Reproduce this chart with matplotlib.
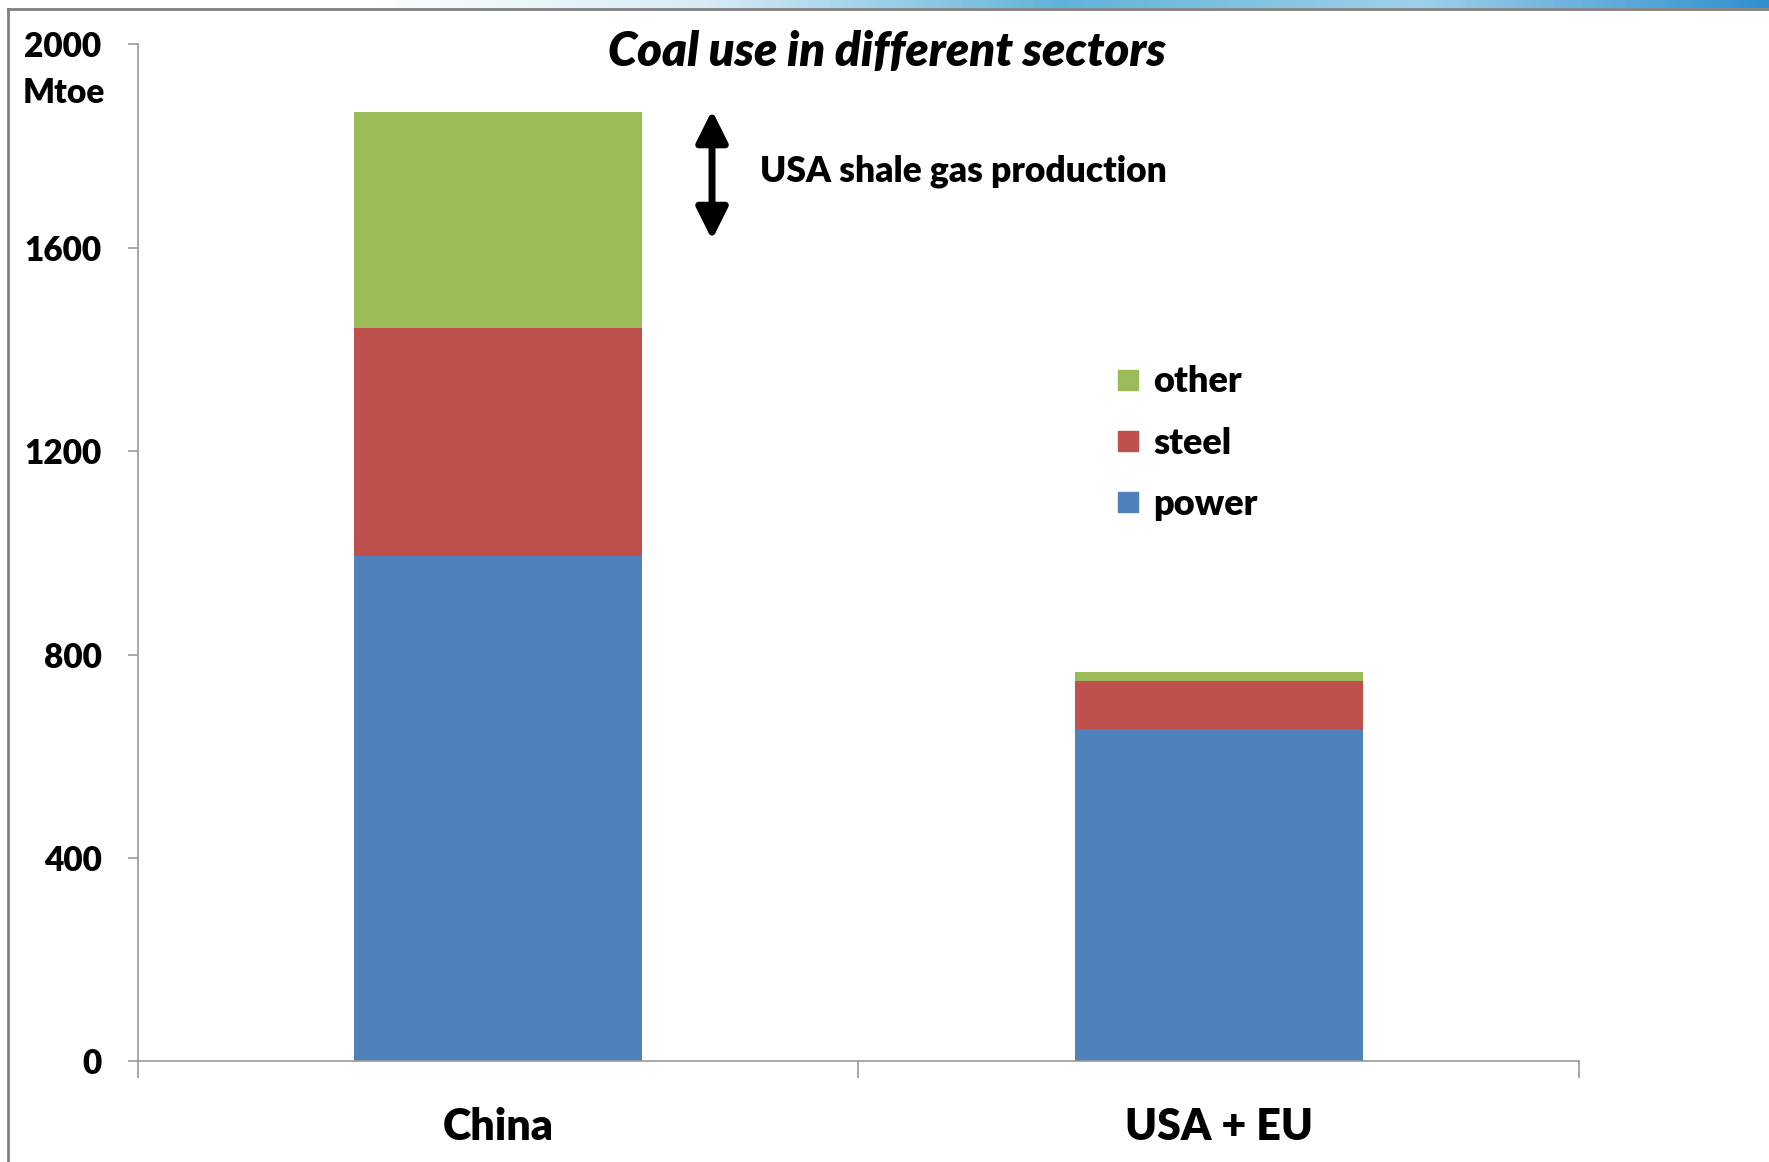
import matplotlib
matplotlib.use('Agg')
import matplotlib.pyplot as plt
from matplotlib.lines import Line2D
import numpy as np

regions = ['China', 'USA + EU']
power = [993, 653]
steel = [449, 94]
other = [425, 18]
y_ticks = [0, 400, 800, 1200, 1600, 2000]

c_power = '#4f81bd'
c_steel = '#c0504d'
c_other = '#9bbb59'
W = 'heavy'

plt.rcParams['font.family'] = ['Lato', 'DejaVu Sans']
plt.rcParams['font.weight'] = W

fig = plt.figure(figsize=(17.69, 11.62), dpi=100)
ax = fig.add_axes([0.0778, 0.0865, 0.8148, 0.8756])

x = np.arange(len(regions))
bottom_steel = np.array(power)
bottom_other = bottom_steel + np.array(steel)
ax.bar(x, power, width=0.4, color=c_power, label='power')
ax.bar(x, steel, width=0.4, bottom=bottom_steel, color=c_steel, label='steel')
ax.bar(x, other, width=0.4, bottom=bottom_other, color=c_other, label='other')

ax.set_xlim(-0.5, 1.5)
ax.set_ylim(0, 2000)
ax.set_yticks(y_ticks)
ax.set_yticklabels([str(v) for v in y_ticks], fontsize=24, fontweight=W)

# category boundaries get the tick marks, names sit in the middle
ax.set_xticks([-0.5, 0.5, 1.5])
ax.set_xticklabels(['', '', ''])
ax.set_xticks(x, minor=True)
ax.set_xticklabels(regions, minor=True, fontsize=31, fontweight=W)
ax.tick_params(axis='x', which='major', length=12, color='#999999', width=1.2)
ax.tick_params(axis='x', which='minor', length=0, pad=33)
ax.tick_params(axis='y', length=7, color='#999999', width=1.2, pad=19)

for s in ['top', 'right']:
    ax.spines[s].set_visible(False)
for s in ['left', 'bottom']:
    ax.spines[s].set_color('#999999')
    ax.spines[s].set_linewidth(1.2)

ax.text(0.52, 0.992, 'Coal use in different sectors', transform=ax.transAxes, fontsize=34,
        fontweight=W, style='italic', ha='center', va='center')
fig.text(0.013, 0.92, 'Mtoe', fontsize=24, fontweight=W, ha='left', va='center')

# double arrow
ax.annotate('', xy=(0.297, 1875), xytext=(0.297, 1610),
            arrowprops=dict(arrowstyle='<|-|>', color='black', lw=5, mutation_scale=48))
ax.text(0.364, 1750, 'USA shale gas production', fontsize=25.5, fontweight=W, va='center')

h = [Line2D([], [], marker='s', ls='', markersize=15, color=c) for c in [c_other, c_steel, c_power]]
ax.legend(h, ['other', 'steel', 'power'], loc='upper left', bbox_to_anchor=(0.653, 0.716),
          frameon=False, fontsize=26, handletextpad=0.25, labelspacing=0.78, handlelength=0.9)

# slide frame and header strip
fig.add_artist(plt.Line2D([0.0045, 0.0045], [0, 0.992], transform=fig.transFigure, color='#808080', lw=2))
fig.add_artist(plt.Line2D([0.0045, 1], [0.992, 0.992], transform=fig.transFigure, color='#808080', lw=2))
strip = fig.add_axes([0.2, 0.9935, 0.8, 0.0065])
grad = np.linspace(0, 1, 256)
strip.imshow(grad[None, :], aspect='auto', cmap=matplotlib.colors.LinearSegmentedColormap.from_list(
    'hdr', ['#ffffff', '#d6ebf5', '#5fb3d9', '#9fd0ea', '#2f8fcf']))
strip.axis('off')

fig.savefig('out.png', dpi=100)
